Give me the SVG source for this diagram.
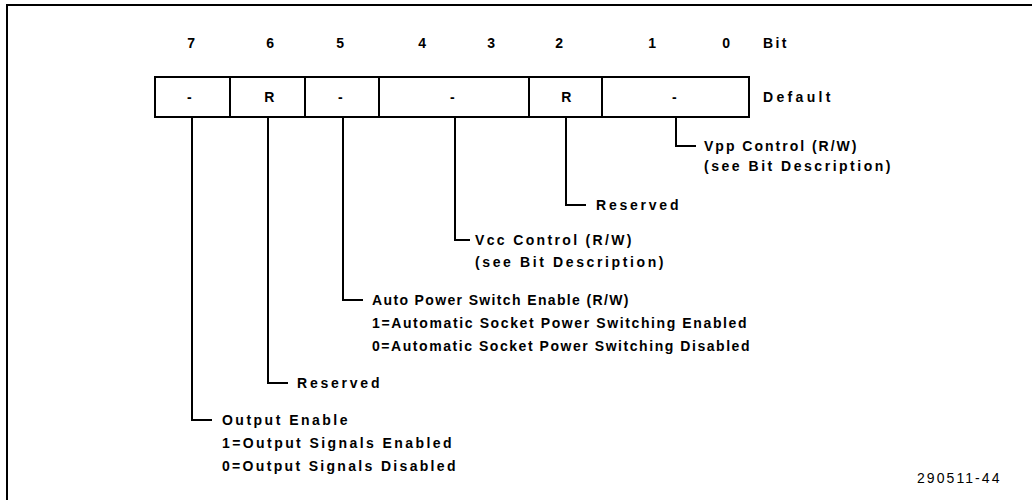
<svg xmlns="http://www.w3.org/2000/svg" width="1032" height="500" viewBox="0 0 1032 500">
<style>
text{font-family:"Liberation Sans",Arial,sans-serif;font-weight:bold;font-size:14px;fill:#000;letter-spacing:1.5px}
.c{text-anchor:middle}
.frame{stroke:#000;stroke-width:2;fill:none}
.cell{stroke:#000;stroke-width:2;fill:#fff}
.conn{stroke:#000;stroke-width:2;fill:none}
.id{font-weight:normal;letter-spacing:0.5px}
</style>
<rect width="1032" height="500" fill="#fff"/>
<path class="frame" d="M6,5 H1032 M7,5 V500"/>
<g id="bitnums">
<text class="c" x="192" y="48">7</text>
<text class="c" x="271" y="48">6</text>
<text class="c" x="341" y="48">5</text>
<text class="c" x="423" y="48">4</text>
<text class="c" x="492" y="48">3</text>
<text class="c" x="560" y="48">2</text>
<text class="c" x="653" y="48">1</text>
<text class="c" x="727" y="48">0</text>
<text x="763" y="48" textLength="25" lengthAdjust="spacing">Bit</text>
</g>
<g id="register">
<rect id="b7" class="cell" x="155" y="77" width="75" height="40"/>
<rect id="b6" class="cell" x="230" y="77" width="75" height="40"/>
<rect id="b5" class="cell" x="305" y="77" width="74" height="40"/>
<rect id="b43" class="cell" x="379" y="77" width="150" height="40"/>
<rect id="b2" class="cell" x="529" y="77" width="73" height="40"/>
<rect id="b10" class="cell" x="602" y="77" width="147" height="40"/>
<text class="c" x="190" y="102">-</text>
<text class="c" x="270" y="102">R</text>
<text class="c" x="341" y="102">-</text>
<text class="c" x="453" y="102">-</text>
<text class="c" x="567" y="102">R</text>
<text class="c" x="675" y="102">-</text>
<text x="763" y="102" textLength="69" lengthAdjust="spacing">Default</text>
</g>
<g id="connectors">
<path class="conn" d="M192,117 V420 H212"/>
<path class="conn" d="M268,117 V383 H288"/>
<path class="conn" d="M343,117 V300 H363"/>
<path class="conn" d="M455,117 V240 H470"/>
<path class="conn" d="M566,117 V205 H586"/>
<path class="conn" d="M676,117 V146 H696"/>
</g>
<g id="vpp">
<text x="704" y="151" textLength="154" lengthAdjust="spacing">Vpp Control (R/W)</text>
<text x="704" y="171" textLength="188" lengthAdjust="spacing">(see Bit Description)</text>
</g>
<g id="res2">
<text x="596" y="210" textLength="84" lengthAdjust="spacing">Reserved</text>
</g>
<g id="vcc">
<text x="475" y="245" textLength="158" lengthAdjust="spacing">Vcc Control (R/W)</text>
<text x="475" y="267" textLength="190" lengthAdjust="spacing">(see Bit Description)</text>
</g>
<g id="auto">
<text x="372" y="305" textLength="258" lengthAdjust="spacing">Auto Power Switch Enable (R/W)</text>
<text x="372" y="328" textLength="376" lengthAdjust="spacing">1=Automatic Socket Power Switching Enabled</text>
<text x="372" y="351" textLength="379" lengthAdjust="spacing">0=Automatic Socket Power Switching Disabled</text>
</g>
<g id="res6">
<text x="297" y="388" textLength="84" lengthAdjust="spacing">Reserved</text>
</g>
<g id="oe">
<text x="222" y="425" textLength="127" lengthAdjust="spacing">Output Enable</text>
<text x="222" y="448" textLength="231" lengthAdjust="spacing">1=Output Signals Enabled</text>
<text x="222" y="471" textLength="235" lengthAdjust="spacing">0=Output Signals Disabled</text>
</g>
<text class="id" x="917" y="483" textLength="83">290511-44</text>
</svg>
